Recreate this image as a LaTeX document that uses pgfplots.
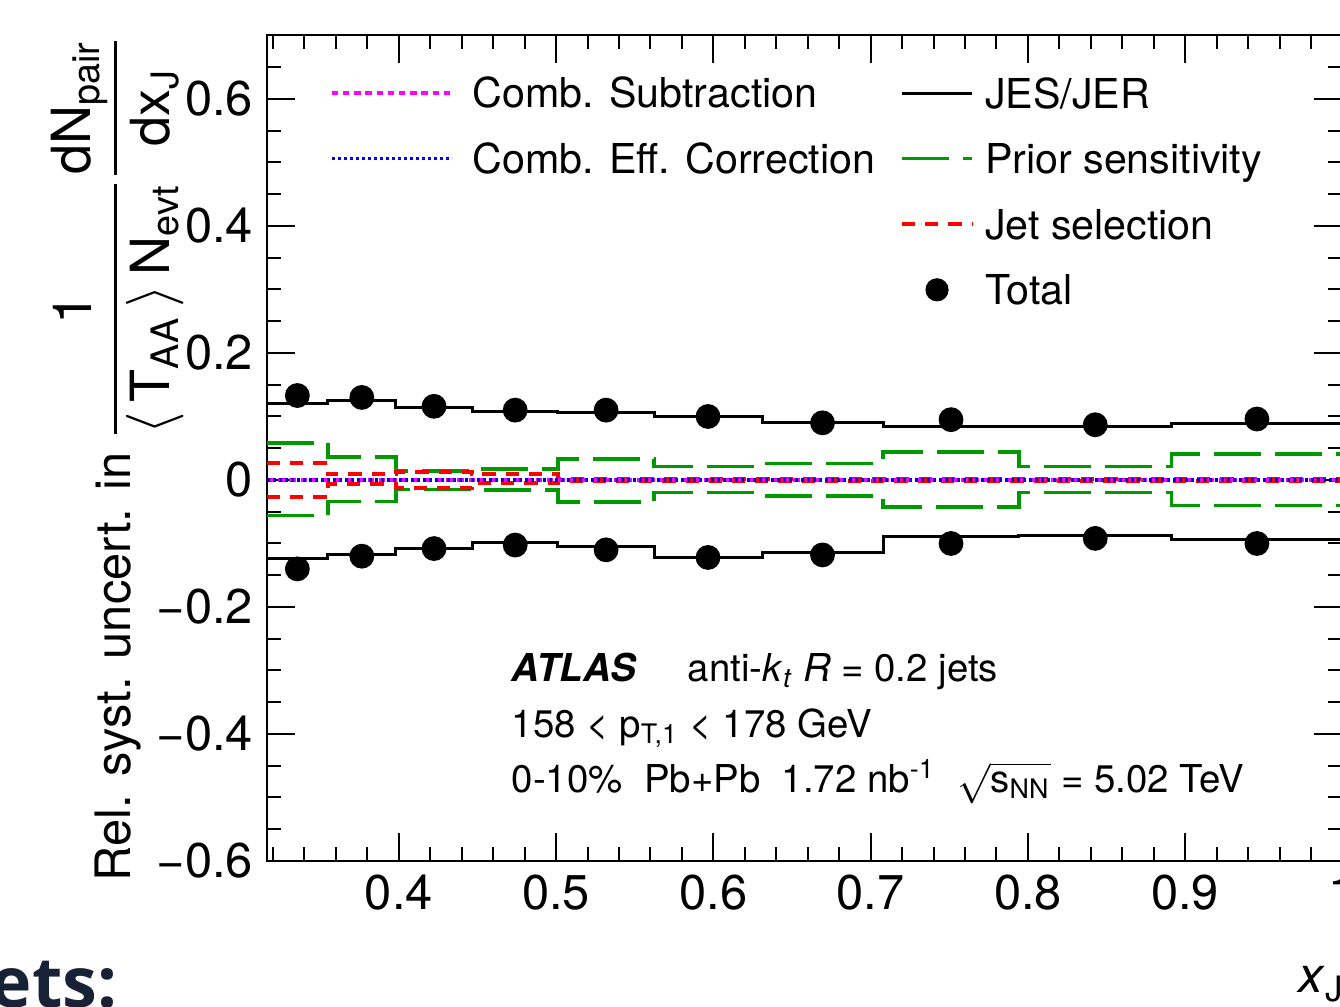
\documentclass[border=0pt]{standalone}
\usepackage{amsmath}
\usepackage{fontspec}
\setmainfont{TeX Gyre Heros}
\newfontfamily\slidefont{Open Sans}
\usepackage{pgfplots}
\pgfplotsset{compat=1.18}
\definecolor{rootgreen}{RGB}{0,153,0}
\definecolor{rootmagenta}{RGB}{255,0,255}
\definecolor{rootblue}{RGB}{0,0,255}
\definecolor{rootred}{RGB}{255,0,0}
\definecolor{slidenavy}{RGB}{24,34,54}
\pgfplotsset{
  longimg/.style={legend image code/.code={\draw[##1] (0pt,0pt) -- (30pt,0pt);}},
  shortimg/.style={legend image code/.code={\draw[##1] (0pt,0pt) -- (17.5pt,0pt);}},
  markimg/.style={legend image code/.code={\path[draw=none] (0pt,0pt) -- (17.5pt,0pt); \fill[black, draw=none] (8.75pt,0pt) circle (2.9pt);}},
}

\begin{document}
\begin{tikzpicture}
\useasboundingbox (0pt,0pt) rectangle (335pt,251.75pt);
\clip (0pt,0pt) rectangle (335pt,251.75pt);
\begin{axis}[
  at={(66.75pt,36.5pt)}, anchor=south west,
  scale only axis, width=268.875pt, height=206.375pt,
  xmin=0.3162, xmax=1.0, ymin=-0.6, ymax=0.7,
  axis line style={line width=0.5pt},
  tick style={black, line width=0.5pt},
  major tick length=7pt, minor tick length=3.5pt,
  tick align=inside,
  xtick={0.4,0.5,0.6,0.7,0.8,0.9,1.0},
  xticklabels={0.4,0.5,0.6,0.7,0.8,0.9,1},
  minor xtick={0.32,0.34,0.36,0.38,0.42,0.44,0.46,0.48,0.52,0.54,0.56,0.58,0.62,0.64,0.66,0.68,0.72,0.74,0.76,0.78,0.82,0.84,0.86,0.88,0.92,0.94,0.96,0.98},
  ytick={-0.6,-0.4,-0.2,0,0.2,0.4,0.6},
  yticklabels={−0.6,−0.4,−0.2,0,0.2,0.4,0.6},
  minor ytick={-0.55,-0.5,-0.45,-0.35,-0.3,-0.25,-0.15,-0.1,-0.05,0.05,0.1,0.15,0.25,0.3,0.35,0.45,0.5,0.55,0.65,0.7},
  /pgf/number format/assume math mode=true,
  ticklabel style={font=\fontsize{12.2}{14}\selectfont},
  xticklabel style={yshift=0pt},
]
% JES/JER
\addplot[const plot, black, line width=0.75pt] coordinates {
 (0.3162,0.120) (0.3548,0.1255) (0.3981,0.1145) (0.4467,0.108) (0.5012,0.1056)
 (0.5623,0.0994) (0.6310,0.090) (0.7079,0.0846) (0.7943,0.084) (0.8913,0.089) (1.0,0.089)};
\addplot[const plot, black, line width=0.75pt] coordinates {
 (0.3162,-0.124) (0.3548,-0.117) (0.3981,-0.108) (0.4467,-0.099) (0.5012,-0.104)
 (0.5623,-0.122) (0.6310,-0.1135) (0.7079,-0.089) (0.7943,-0.088) (0.8913,-0.0935) (1.0,-0.0935)};
% Prior sensitivity
\addplot[const plot, rootgreen, line width=0.9pt, dash pattern=on 11.75pt off 3.5pt] coordinates {
 (0.3162,0.058) (0.3548,0.036) (0.3981,0.014) (0.4467,0.017) (0.5012,0.033)
 (0.5623,0.021) (0.6310,0.026) (0.7079,0.044) (0.7943,0.021) (0.8913,0.041) (1.0,0.041)};
\addplot[const plot, rootgreen, line width=0.9pt, dash pattern=on 11.75pt off 3.5pt] coordinates {
 (0.3162,-0.056) (0.3548,-0.034) (0.3981,-0.015) (0.4467,-0.016) (0.5012,-0.035)
 (0.5623,-0.020) (0.6310,-0.025) (0.7079,-0.043) (0.7943,-0.020) (0.8913,-0.040) (1.0,-0.040)};
% Jet selection
\addplot[const plot, rootred, line width=1pt, dash pattern=on 3.3pt off 2.5pt] coordinates {
 (0.3162,0.027) (0.3548,0.009) (0.3981,0.013) (0.4467,0.009) (0.5012,0.002)
 (0.5623,0.002) (0.6310,0.002) (0.7079,0.002) (0.7943,0.002) (0.8913,0.002) (1.0,0.002)};
\addplot[const plot, rootred, line width=1pt, dash pattern=on 3.3pt off 2.5pt] coordinates {
 (0.3162,-0.027) (0.3548,-0.007) (0.3981,-0.012) (0.4467,-0.004) (0.5012,-0.002)
 (0.5623,-0.002) (0.6310,-0.002) (0.7079,-0.002) (0.7943,-0.002) (0.8913,-0.002) (1.0,-0.002)};
% Comb. Subtraction
\addplot[const plot, rootmagenta, line width=0.9pt, dash pattern=on 1.6pt off 1.2pt] coordinates {
 (0.3162,0.001) (0.3548,0.001) (0.3981,0.001) (0.4467,0.001) (0.5012,0.001)
 (0.5623,0.001) (0.6310,0.001) (0.7079,0.001) (0.7943,0.001) (0.8913,0.001) (1.0,0.001)};
\addplot[const plot, rootmagenta, line width=0.9pt, dash pattern=on 1.6pt off 1.2pt] coordinates {
 (0.3162,-0.001) (0.3548,-0.001) (0.3981,-0.001) (0.4467,-0.001) (0.5012,-0.001)
 (0.5623,-0.001) (0.6310,-0.001) (0.7079,-0.001) (0.7943,-0.001) (0.8913,-0.001) (1.0,-0.001)};
% Comb. Eff. Correction
\addplot[const plot, rootblue, line width=0.9pt, dash pattern=on 0.7pt off 0.8pt] coordinates {
 (0.3162,0.0005) (0.3548,0.0005) (0.3981,0.0005) (0.4467,0.0005) (0.5012,0.0005)
 (0.5623,0.0005) (0.6310,0.0005) (0.7079,0.0005) (0.7943,0.0005) (0.8913,0.0005) (1.0,0.0005)};
\addplot[const plot, rootblue, line width=0.9pt, dash pattern=on 0.7pt off 0.8pt] coordinates {
 (0.3162,-0.0005) (0.3548,-0.0005) (0.3981,-0.0005) (0.4467,-0.0005) (0.5012,-0.0005)
 (0.5623,-0.0005) (0.6310,-0.0005) (0.7079,-0.0005) (0.7943,-0.0005) (0.8913,-0.0005) (1.0,-0.0005)};
% Total
\addplot[only marks, mark=*, mark size=2.9pt, black] coordinates {
 (0.3355,0.133) (0.3765,0.130) (0.4224,0.116) (0.4740,0.110) (0.5318,0.110)
 (0.5966,0.100) (0.6694,0.090) (0.7511,0.095) (0.8428,0.087) (0.9456,0.096)};
\addplot[only marks, mark=*, mark size=2.9pt, black] coordinates {
 (0.3355,-0.140) (0.3765,-0.120) (0.4224,-0.108) (0.4740,-0.1025) (0.5318,-0.110)
 (0.5966,-0.122) (0.6694,-0.118) (0.7511,-0.100) (0.8428,-0.092) (0.9456,-0.100)};
\end{axis}

% legend column 1
\begin{axis}[
  at={(66.75pt,36.5pt)}, anchor=south west,
  scale only axis, width=268.875pt, height=206.375pt,
  hide axis, xmin=0, xmax=1, ymin=0, ymax=1,
  legend cell align=left,
  legend style={at={(0.0586,0.9485)}, anchor=north west, draw=none, fill=none,
    inner sep=0pt, outer sep=0pt, row sep=8.9pt,
    font=\fontsize{10.3}{12}\selectfont,
    nodes={inner sep=0pt, text height=7.5pt, text depth=0pt},
    /tikz/every odd column/.append style={column sep=4.75pt}},
]
\addlegendimage{longimg, rootmagenta, line width=0.9pt, dash pattern=on 1.6pt off 1.2pt}
\addlegendentry{Comb. Subtraction}
\addlegendimage{longimg, rootblue, line width=0.9pt, dash pattern=on 0.7pt off 0.8pt}
\addlegendentry{Comb. Eff. Correction}
\end{axis}

% legend column 2
\begin{axis}[
  at={(66.75pt,36.5pt)}, anchor=south west,
  scale only axis, width=268.875pt, height=206.375pt,
  hide axis, xmin=0, xmax=1, ymin=0, ymax=1,
  legend cell align=left,
  legend style={at={(0.5886,0.9485)}, anchor=north west, draw=none, fill=none,
    inner sep=0pt, outer sep=0pt, row sep=8.9pt,
    font=\fontsize{10.3}{12}\selectfont,
    nodes={inner sep=0pt, text height=7.5pt, text depth=0pt},
    /tikz/every odd column/.append style={column sep=2.75pt}},
]
\addlegendimage{shortimg, black, line width=0.75pt}
\addlegendentry{JES/JER}
\addlegendimage{shortimg, rootgreen, line width=0.9pt, dash pattern=on 11.75pt off 3.5pt}
\addlegendentry{Prior sensitivity}
\addlegendimage{shortimg, rootred, line width=1pt, dash pattern=on 3.3pt off 2.5pt}
\addlegendentry{Jet selection}
\addlegendimage{markimg}
\addlegendentry{Total}
\end{axis}

% y-axis title
\node[rotate=90, anchor=base east, inner sep=0pt, font=\fontsize{12.2}{15}\selectfont]
  at (32.5pt,243pt)
  {Rel. syst. uncert. in {\fontsize{13.5}{16}\selectfont$\displaystyle\frac{\text{1}}{\langle\,\text{T}_{\text{AA}}\,\rangle\,\text{N}_{\text{evt}}}\frac{\text{dN}_{\text{pair}}}{\text{dx}_{\text{J}}}$}};

% x-axis title
\node[anchor=base west, inner sep=0pt, font=\fontsize{12.5}{14}\selectfont]
  at (324.5pt,3.5pt) {\textit{x}$_{\text{J}}$};

% ATLAS text
\node[anchor=base west, inner sep=0pt, font=\fontsize{9.6}{12}\selectfont]
  at (127.75pt,81.25pt) {\textbf{\textit{ATLAS}}};
\node[anchor=base west, inner sep=0pt, font=\fontsize{9.6}{12}\selectfont]
  at (171.75pt,81.25pt) {anti-\textit{k}$_{\textit{t}}$\ \textit{R} = 0.2 jets};
\node[anchor=base west, inner sep=0pt, font=\fontsize{9.6}{12}\selectfont]
  at (127.75pt,67.25pt) {158 < p$_{\text{T,1}}$ < 178 GeV};
\node[anchor=base west, inner sep=0pt, font=\fontsize{9.6}{12}\selectfont]
  at (127.75pt,53.5pt) {0-10\%\ \ Pb+Pb\ \ 1.72 nb$^{\text{-1}}$\ \ $\sqrt{\text{s}_{\text{NN}}}$ = 5.02 TeV};

% slide text fragment
\node[anchor=base east, inner sep=0pt, text=slidenavy, font=\slidefont\bfseries\fontsize{17.5}{20}\selectfont]
  at (29.5pt,-0.25pt) {Jets:};
\end{tikzpicture}
\end{document}
